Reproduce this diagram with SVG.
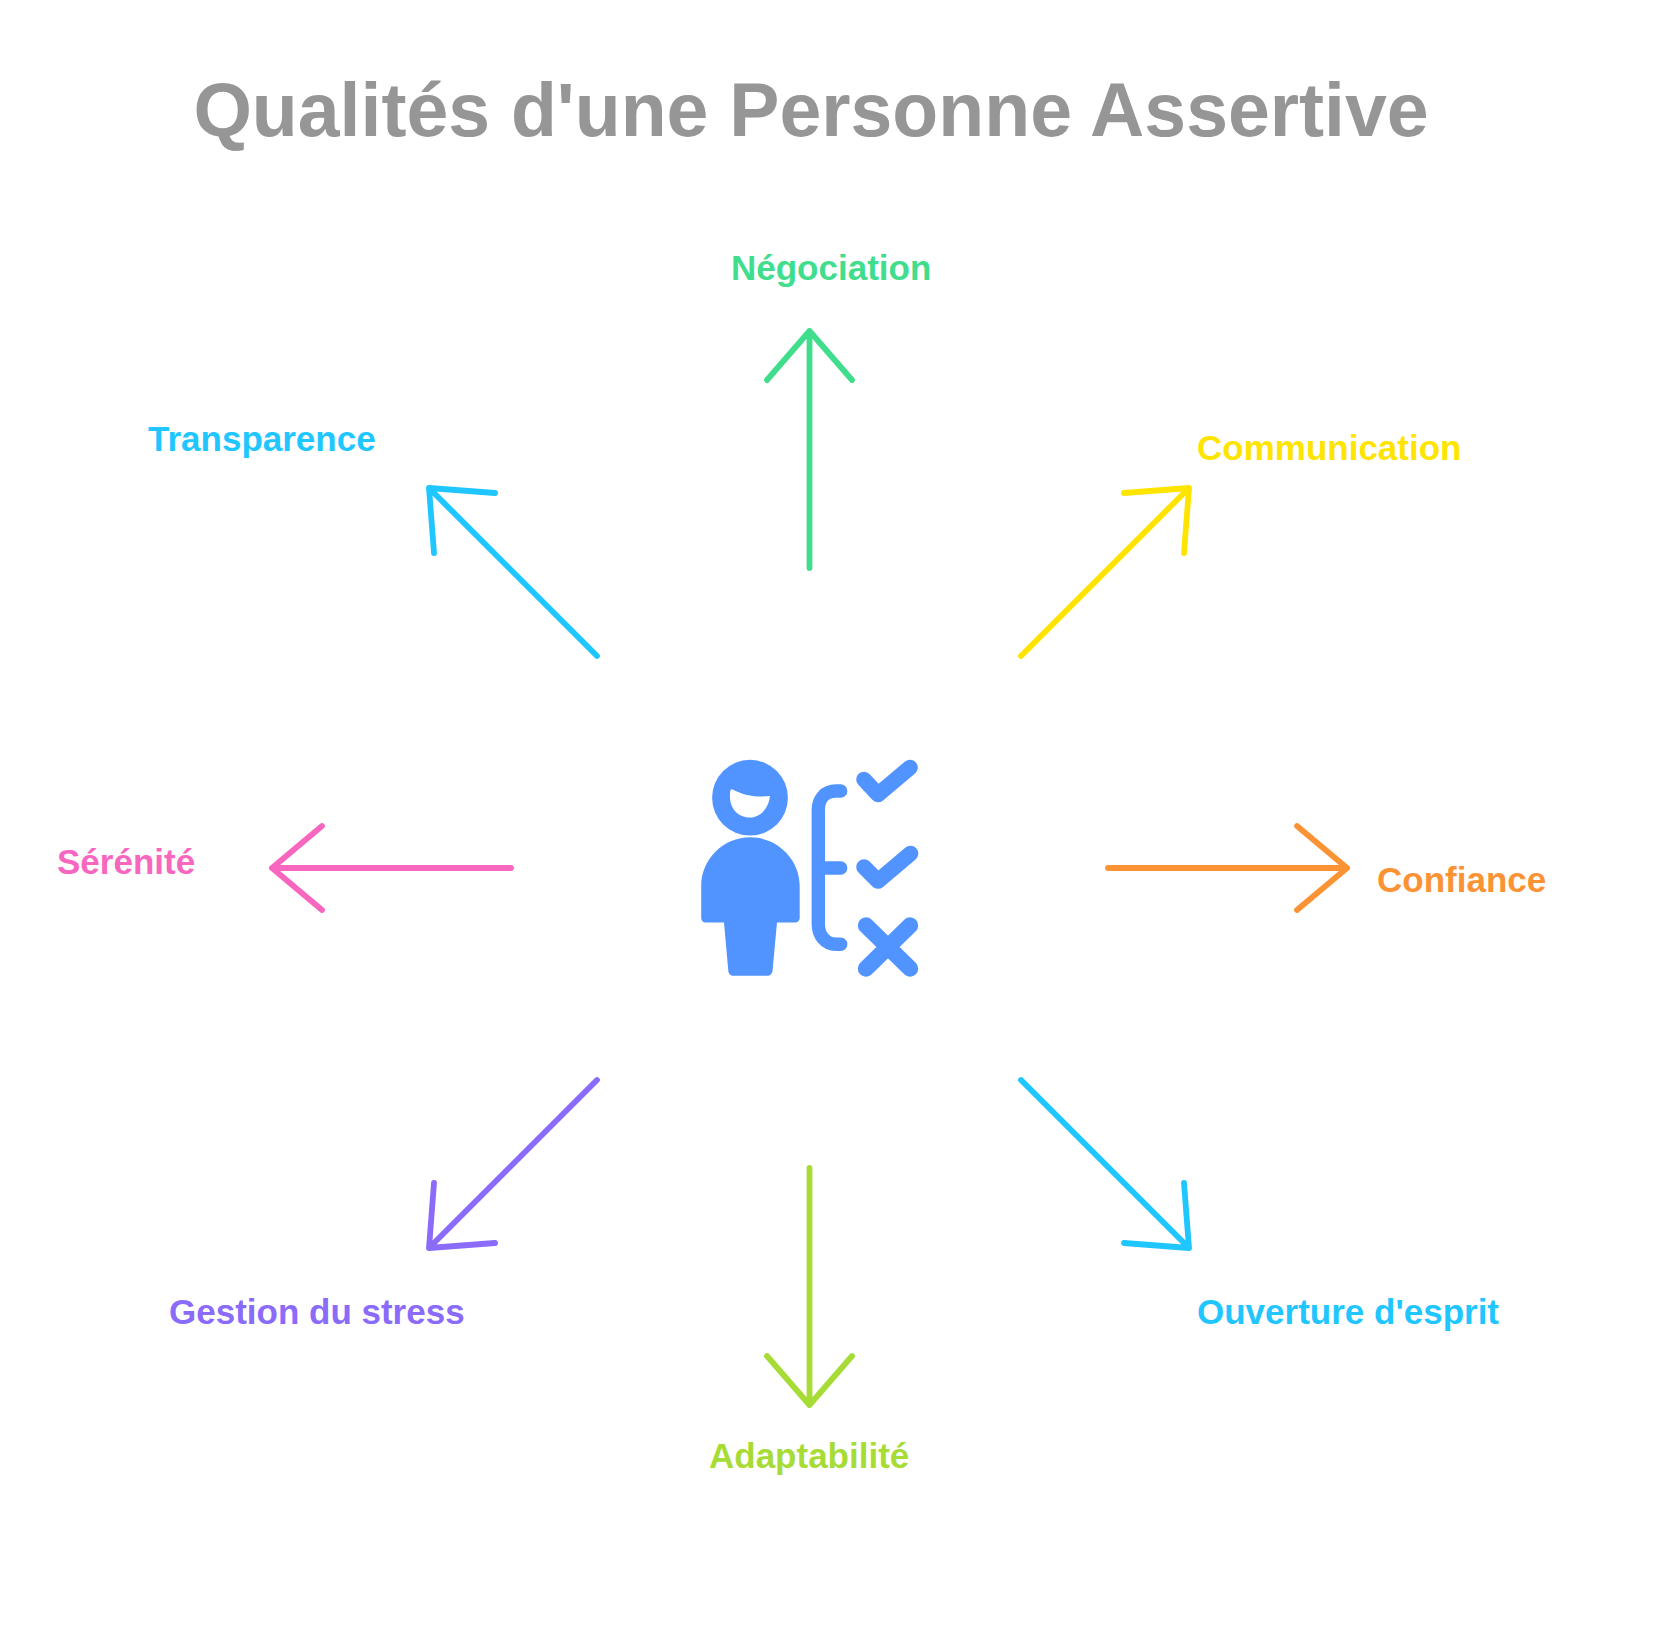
<svg xmlns="http://www.w3.org/2000/svg" width="1680" height="1638" viewBox="0 0 1680 1638">
<style>
text{font-family:"Liberation Sans",Arial,sans-serif;font-weight:700}
.t{font-size:75.2px;fill:#969696}
.l{font-size:35px}
.a{fill:none;stroke-width:5.8;stroke-linecap:round;stroke-linejoin:round}
.ic{fill:none;stroke:#5294ff;stroke-linecap:round;stroke-linejoin:round}
</style>
<rect width="1680" height="1638" fill="#fff"/>
<text id="title" class="t" x="811" y="136" text-anchor="middle">Qualités d'une Personne Assertive</text>
<g id="connectors">
<path class="a" stroke="#40de8c" d="M809.5 568V331M767 380L809.5 331L852 380"/>
<path class="a" stroke="#ffe400" d="M1021 656L1189 488M1124 493L1189 488L1184 553"/>
<path class="a" stroke="#fb9335" d="M1108 868H1347M1297 826L1347 868L1297 910"/>
<path class="a" stroke="#1fc6ff" d="M1021 1080L1189 1248M1124 1243L1189 1248L1184 1183"/>
<path class="a" stroke="#a7dc37" d="M809.5 1168V1405M767 1356L809.5 1405L852 1356"/>
<path class="a" stroke="#8a6bfa" d="M597 1080L429 1248M495 1243L429 1248L434 1183"/>
<path class="a" stroke="#f767c0" d="M511 868H272M322 826L272 868L322 910"/>
<path class="a" stroke="#1fc6ff" d="M597 656L429 488M495 493L429 488L434 553"/>
</g>
<g id="center-icon">
<circle cx="750" cy="797.7" r="37.9" fill="#5294ff"/>
<path fill="#fff" d="M732.5 789.5C746 796 756 797.5 770 796C768.5 809 760 817.5 749.5 817.5C738 817.5 730 808 730 797C730 792 730 788.5 732.5 789.5Z"/>
<path fill="#5294ff" d="M750.3 837.3C777 837.3 799.7 859 799.7 886V918C799.7 920.5 797.5 922.5 795 922.5H777L772.5 971C772 974 770 975.8 767.5 975.8H733C730.5 975.8 728.7 974 728.3 971L724 922.5H705.5C703 922.5 701.2 920.5 701.2 918V886C701.2 859 723.5 837.3 750.3 837.3Z"/>
<path class="ic" stroke-width="13.4" d="M840.7 791H836C825 791 818.3 799 818.3 810V924C818.3 935 825 944.3 836 944.3H840.7M818.3 868H840.7"/>
<path class="ic" stroke-width="15.6" d="M864 779.5L878 794.5L910 767.5M864 867L878 881L910.5 853.5"/>
<path class="ic" stroke-width="16.4" d="M866 925.5L910 968.5M910 925.5L866 968.5"/>
</g>
<g id="node-negociation"><text class="l" x="731" y="279.5" fill="#40de8c">Négociation</text></g>
<g id="node-communication"><text class="l" x="1197" y="459.5" fill="#ffe400">Communication</text></g>
<g id="node-confiance"><text class="l" x="1377" y="891.5" fill="#fb9335">Confiance</text></g>
<g id="node-ouverture"><text class="l" x="1197" y="1323.5" fill="#1fc6ff">Ouverture d'esprit</text></g>
<g id="node-adaptabilite"><text class="l" x="709" y="1467.5" fill="#a7dc37">Adaptabilité</text></g>
<g id="node-gestion"><text class="l" x="169" y="1323.5" fill="#8a6bfa">Gestion du stress</text></g>
<g id="node-serenite"><text class="l" x="57" y="873.5" fill="#f767c0">Sérénité</text></g>
<g id="node-transparence"><text class="l" x="148" y="451" fill="#1fc6ff">Transparence</text></g>
</svg>
